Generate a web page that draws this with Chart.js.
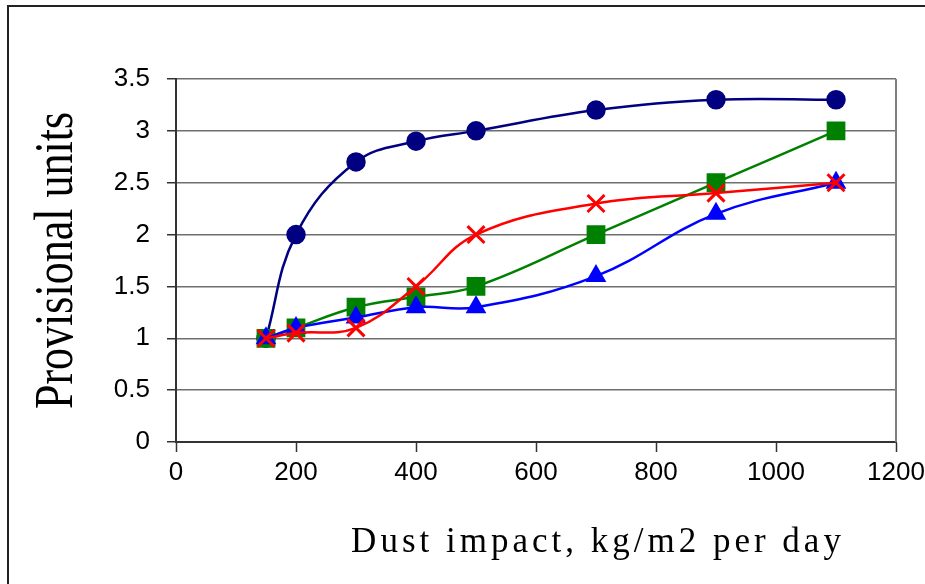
<!DOCTYPE html>
<html>
<head>
<meta charset="utf-8">
<script src="https://cdn.jsdelivr.net/npm/chart.js@4"></script>
<style>
  html, body { margin: 0; padding: 0; background: #fff; overflow: hidden; }
  #frame {
    position: absolute; left: 7px; top: 5px; width: 1000px; height: 700px;
    border: 2px solid #222; box-sizing: border-box;
  }
  #wrap { position: absolute; left: 0; top: 0; width: 925px; height: 584px; }
</style>
</head>
<body>
<div id="frame"></div>
<div id="wrap"><canvas id="dustChart"></canvas></div>
<script>
// Dust impact (kg/m2 per day)
const dustImpact = [150, 200, 300, 400, 500, 700, 900, 1100];

// Provisional units, one array per series
const seriesCircle = [1, 2, 2.7, 2.9, 3, 3.2, 3.3, 3.3];
const seriesSquare = [1, 1.1, 1.3, 1.4, 1.5, 2, 2.5, 3];
const seriesCross = [1, 1.05, 1.1, 1.5, 2, 2.3, 2.4, 2.5];
const seriesTriangle = [1, 1.1, 1.2, 1.3, 1.3, 1.6, 2.2, 2.5];

const xTicks = [0, 200, 400, 600, 800, 1000, 1200];
const yTicks = [0, 0.5, 1, 1.5, 2, 2.5, 3, 3.5];

function toPoints(values) {
  return dustImpact.map((x, i) => ({ x: x, y: values[i] }));
}

// right edge of the plot area
const plotFrame = {
  id: "plotFrame",
  beforeDatasetsDraw(chart) {
    const { ctx, chartArea } = chart;
    ctx.save();
    ctx.strokeStyle = "#808080";
    ctx.lineWidth = 2;
    ctx.beginPath();
    ctx.moveTo(chartArea.right, chartArea.top);
    ctx.lineTo(chartArea.right, chartArea.bottom);
    ctx.stroke();
    ctx.restore();
  }
};

// wide letter spacing on the x title, tall narrow glyphs on the y title
const titleLook = {
  id: "titleLook",
  beforeDraw(chart) {
    const ctx = chart.ctx;
    const sx = chart.scales.x;
    const sy = chart.scales.y;
    if (!sx._patched) {
      const orig = sx.drawTitle.bind(sx);
      sx.drawTitle = function () {
        ctx.save();
        ctx.letterSpacing = "4px";
        ctx.translate(62, 0); // title sits right of the plot centre
        orig();
        ctx.restore();
      };
      sx._patched = true;
    }
    if (!sy._patched) {
      const orig = sy.drawTitle.bind(sy);
      sy.drawTitle = function () {
        const cx = 57;
        ctx.save();
        ctx.translate(cx, 0);
        ctx.scale(1.25, 1);
        ctx.translate(-cx, 0);
        orig();
        ctx.restore();
      };
      sy._patched = true;
    }
  }
};

const ctx = document.getElementById("dustChart");

new Chart(ctx, {
  type: "line",
  data: {
    datasets: [
      {
        label: "Series 1",
        data: toPoints(seriesCircle),
        borderColor: "#000080",
        backgroundColor: "#000080",
        pointStyle: "circle",
        pointRadius: 8.5,
        borderWidth: 2.5,
        order: 4
      },
      {
        label: "Series 2",
        data: toPoints(seriesSquare),
        borderColor: "#008000",
        backgroundColor: "#008000",
        pointStyle: "rect",
        pointRadius: 11.5,
        borderWidth: 2.5,
        order: 3
      },
      {
        label: "Series 3",
        data: toPoints(seriesTriangle),
        borderColor: "#0000ff",
        backgroundColor: "#0000ff",
        pointStyle: "triangle",
        pointRadius: 9.5,
        borderWidth: 2.5,
        order: 2
      },
      {
        label: "Series 4",
        data: toPoints(seriesCross),
        borderColor: "#ff0000",
        backgroundColor: "#ff0000",
        pointStyle: "crossRot",
        pointRadius: 12,
        pointBorderWidth: 3,
        borderWidth: 2.5,
        order: 1
      }
    ]
  },
  options: {
    responsive: true,
    maintainAspectRatio: false,
    animation: false,
    layout: { padding: { top: 79, right: 29, left: 0, bottom: 0 } },
    elements: { line: { tension: 0.4, fill: false } },
    plugins: {
      legend: { display: false },
      tooltip: { enabled: false }
    },
    scales: {
      x: {
        type: "linear",
        min: 0,
        max: 1200,
        afterBuildTicks: axis => { axis.ticks = xTicks.map(v => ({ value: v })); },
        afterFit: axis => {
          axis.height = 142;
          axis.paddingRight = 0; // let "1200" run off the edge like the original
        },
        grid: {
          drawOnChartArea: false,
          drawTicks: true,
          tickLength: 10,
          tickColor: "#333",
          tickWidth: 1.5
        },
        border: { color: "#333", width: 2 },
        ticks: {
          color: "#000",
          padding: 5,
          maxRotation: 0,
          callback: v => String(v),
          font: { family: "'Liberation Sans', Arial, sans-serif", size: 26 }
        },
        title: {
          display: true,
          text: "Dust impact, kg/m2 per day",
          color: "#000",
          padding: { top: 0, bottom: 20 },
          font: { family: "'Liberation Serif', 'Times New Roman', serif", size: 35 }
        }
      },
      y: {
        min: 0,
        max: 3.5,
        afterBuildTicks: axis => { axis.ticks = yTicks.map(v => ({ value: v })); },
        afterFit: axis => { axis.width = 176; },
        grid: {
          color: "#6e6e6e",
          lineWidth: 1.5,
          drawTicks: true,
          tickLength: 9,
          tickColor: "#333"
        },
        border: { color: "#333", width: 2 },
        ticks: {
          color: "#000",
          padding: 17,
          callback: v => String(v),
          font: { family: "'Liberation Sans', Arial, sans-serif", size: 26 }
        },
        title: {
          display: true,
          text: "Provisional units",
          color: "#000",
          padding: { top: 31, bottom: 0 },
          font: { family: "'Liberation Serif', 'Times New Roman', serif", size: 44 }
        }
      }
    }
  },
  plugins: [plotFrame, titleLook]
});
</script>
</body>
</html>
